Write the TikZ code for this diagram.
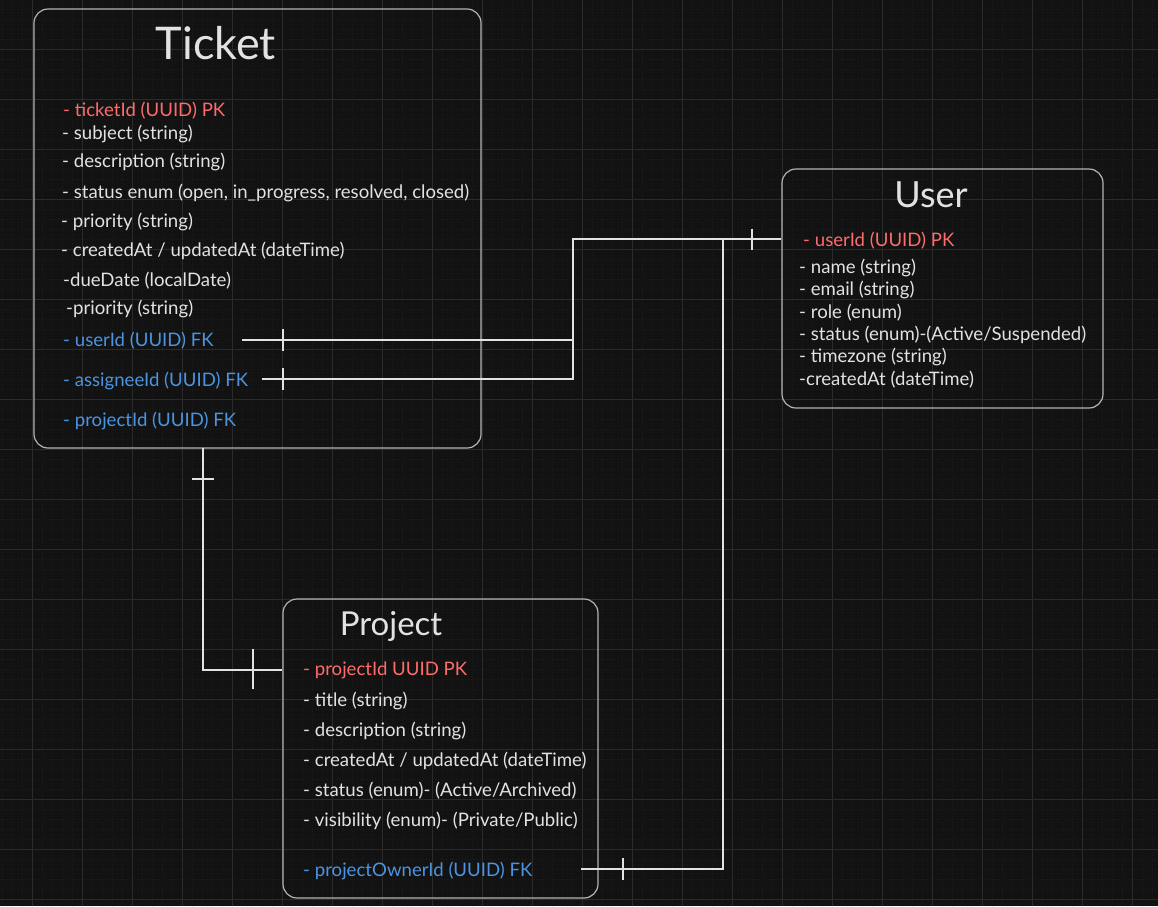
\documentclass[tikz,border=0pt]{standalone}
\usepackage{fontspec}
\setmainfont{Lato}
\usetikzlibrary{positioning}

\definecolor{canvas}{HTML}{121212}
\definecolor{gridmajor}{HTML}{2B2B2B}
\definecolor{gridminor}{HTML}{1D1D1D}
\definecolor{boxline}{HTML}{B4B4B4}
\definecolor{fieldtxt}{HTML}{E2E2E2}
\definecolor{pkred}{HTML}{FF6B6B}
\definecolor{fkblue}{HTML}{4A94E2}
\definecolor{linkwhite}{HTML}{E2E2E2}

\tikzset{
  entity/.style={draw=boxline, line width=1.2pt, rounded corners=14pt, inner sep=0pt},
  field/.style={anchor=west, inner sep=0pt, text=fieldtxt, font=\fontsize{18.6}{21}\selectfont},
  pkfield/.style={field, text=pkred},
  fkfield/.style={field, text=fkblue},
  heading/.style={inner sep=0pt, text=fieldtxt},
  link/.style={draw=linkwhite, line width=2.5pt},
  crossbar/.style={draw=linkwhite, line width=2.2pt}
}

\newcommand{\onebarv}[2]{\draw[crossbar] ([yshift=#2]#1) -- ([yshift=-#2]#1);}
\newcommand{\onebarh}[2]{\draw[crossbar] ([xshift=-#2]#1) -- ([xshift=#2]#1);}

\begin{document}
\begin{tikzpicture}[x=1pt,y=-1pt]
    % Canvas and grid
    \fill[canvas] (0,0) rectangle (1158,906);
    \useasboundingbox (0,0) rectangle (1158,906);
    \foreach \x in {2,12,...,1152}
        \draw[gridminor, line width=0.6pt, dash pattern=on 1pt off 2pt] (\x,0) -- (\x,906);
    \foreach \y in {9.5,19.5,...,899.5}
        \draw[gridminor, line width=0.6pt, dash pattern=on 1pt off 2pt] (0,\y) -- (1158,\y);
    \foreach \x in {32,82,...,1132}
        \draw[gridmajor, line width=1pt] (\x,0) -- (\x,906);
    \foreach \y in {49.5,99.5,...,899.5}
        \draw[gridmajor, line width=1pt] (0,\y) -- (1158,\y);

    % Ticket
    \node[entity, minimum width=447, minimum height=439] (tbox) at (257.5,228.5) {};
    \node[heading, font=\fontsize{45}{48}\selectfont] (ttitle) at (216,43) {Ticket};
    \node[pkfield] (tid) at (63,111) {- ticketId (UUID) PK};
    \node[field] (tsubj) at (62,134) {- subject (string)};
    \node[field] (tdesc) at (62,162) {- description (string)};
    \node[field] (tstat) at (62,193) {- status enum (open, in\_progress, resolved, closed)};
    \node[field] (tprio) at (61,222) {- priority (string)};
    \node[field] (tdates) at (61,251) {- createdAt / updatedAt (dateTime)};
    \node[field] (tdue) at (63,281) {-dueDate (localDate)};
    \node[field] (tprio2) at (66,309) {-priority (string)};
    \node[fkfield] (tuser) at (63,341) {- userId (UUID) FK};
    \node[fkfield] (tassn) at (63,381) {- assigneeId (UUID) FK};
    \node[fkfield] (tproj) at (63,421) {- projectId (UUID) FK};

    % User
    \node[entity, minimum width=321, minimum height=239] (ubox) at (942.5,288.5) {};
    \node[heading, font=\fontsize{36}{40}\selectfont] (utitle) at (931,195) {User};
    \node[pkfield] (uid) at (803,241) {- userId (UUID) PK};
    \node[field] (uname) at (799,268) {- name (string)};
    \node[field] (umail) at (799,290) {- email (string)};
    \node[field] (urole) at (799,313) {- role (enum)};
    \node[field] (ustat) at (799,335) {- status (enum)-(Active/Suspended)};
    \node[field] (uzone) at (799,357) {- timezone (string)};
    \node[field] (ucreated) at (799,380) {-createdAt (dateTime)};

    % Project
    \node[entity, minimum width=315, minimum height=299] (pbox) at (440.5,748.5) {};
    \node[heading, font=\fontsize{33}{36}\selectfont] (ptitle) at (391,626) {Project};
    \node[pkfield] (pid) at (303,670) {- projectId UUID PK};
    \node[field] (pname) at (303,701) {- title (string)};
    \node[field] (pdesc) at (303,731) {- description (string)};
    \node[field] (pdates) at (303,761) {- createdAt / updatedAt (dateTime)};
    \node[field] (pstat) at (303,791) {- status (enum)- (Active/Archived)};
    \node[field] (pvis) at (303,821) {- visibility (enum)- (Private/Public)};
    \node[fkfield] (pown) at (303,871) {- projectOwnerId (UUID) FK};

    % Relations
    \coordinate (tuser-out) at (242,340);
    \coordinate (tassn-out) at (262,379);
    \coordinate (pown-out) at (581,869);
    \coordinate (tdrop) at (203,448);
    \coordinate (ubus) at (573,239);
    \coordinate (obus) at (723,239);
    \draw[link] (tuser-out) -| (ubus) -- (ubox.west |- ubus);
    \draw[link] (tassn-out) -| (ubus |- tuser-out);
    \draw[link] (pown-out) -| (obus);
    \draw[link] (tdrop) |- (pbox.west |- pid);

    % One-side bars
    \coordinate (bar1) at (283,340);
    \coordinate (bar2) at (283,379);
    \coordinate (bar3) at (752,239);
    \coordinate (bar4) at (623,869);
    \coordinate (bar5) at (203,479);
    \coordinate (bar6) at (253,669);
    \onebarv{bar1}{11}
    \onebarv{bar2}{11}
    \onebarv{bar3}{10.5}
    \onebarv{bar4}{11}
    \onebarh{bar5}{11}
    \onebarv{bar6}{20}
\end{tikzpicture}
\end{document}
